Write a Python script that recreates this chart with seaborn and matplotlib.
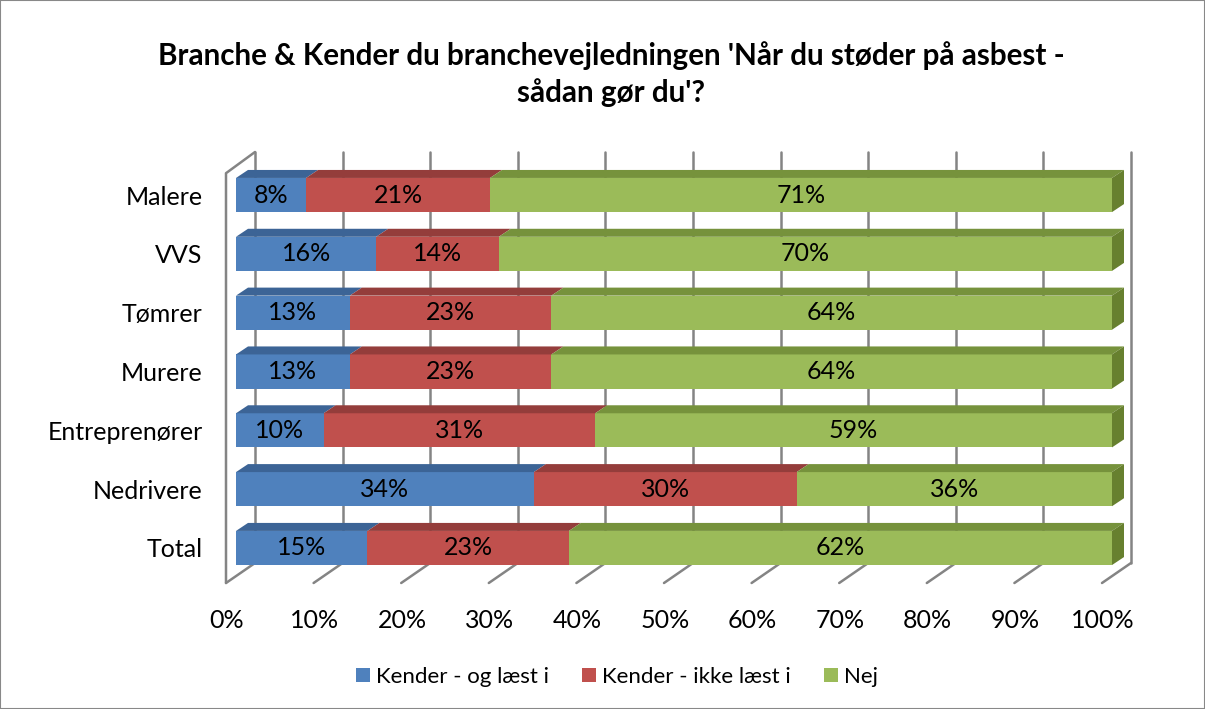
import numpy as np
import pandas as pd
import matplotlib
matplotlib.use("Agg")
import matplotlib.pyplot as plt
import matplotlib.transforms as mtransforms
from matplotlib.patches import Patch, Rectangle
import seaborn as sns

# data (percent)
branches = ["Malere", "VVS", "Tømrer", "Murere", "Entreprenører", "Nedrivere", "Total"]
kender_laest = [8, 16, 13, 13, 10, 34, 15]
kender_ikke_laest = [21, 14, 23, 23, 31, 30, 23]
nej = [71, 70, 64, 64, 59, 36, 62]
series = ["Kender - og læst i", "Kender - ikke læst i", "Nej"]
ticks = list(range(0, 101, 10))
tick_labels = [f"{t}%" for t in ticks]

colors = {"Kender - og læst i": "#4F81BD", "Kender - ikke læst i": "#C0504D", "Nej": "#9BBB59"}
top_colors = {"Kender - og læst i": "#3C6496", "Kender - ikke læst i": "#943D3B", "Nej": "#76923C"}
side_color = "#67802F"
grid_color = "#848484"

sns.set_style("white")
plt.rcParams["font.family"] = ["Lato", "DejaVu Sans"]
plt.rcParams["text.color"] = "black"
plt.rcParams["xtick.color"] = "black"
plt.rcParams["ytick.color"] = "black"

# long table with cumulative ends for overlaid stacked bars
vals = np.array([kender_laest, kender_ikke_laest, nej], dtype=float)
cum = vals.cumsum(axis=0)
rows = []
for s_i, s in enumerate(series):
    for b_i, b in enumerate(branches):
        rows.append((b, s, vals[s_i, b_i], cum[s_i, b_i]))
df = pd.DataFrame(rows, columns=["Branche", "Svar", "Value", "Cum"])

W, H = 1205, 709
fig = plt.figure(figsize=(W / 100, H / 100), dpi=100)
fig.patches.append(Rectangle((0, 0), 1, 1, transform=fig.transFigure, fill=False,
                             edgecolor="#888888", linewidth=1.5))
ax = fig.add_axes([236 / W, 1 - 577.4 / H, 876 / W, 411.8 / H])

bar_h = 0.58
sns.barplot(data=df, y="Branche", x="Cum", hue="Svar", order=branches,
            hue_order=series[::-1], palette=colors, dodge=False, width=bar_h,
            orient="h", saturation=1, legend=False, ax=ax, zorder=2,
            linewidth=0, edgecolor="none")
ax.set_xlim(0, 100)
ax.set_ylim(len(branches) - 0.5, -0.5)

# pixel scale of the axes -> depth offsets of the pseudo 3D frame
px_x = 876 / 100.0
px_y = 411.8 / len(branches)
wall_dx = 19 / px_x
front_dx = -10 / px_x
wall_top = -0.5 - 13.6 / px_y
floor_back = len(branches) - 0.5 - 14.4 / px_y
floor_front = floor_back + 20 / px_y
left_top = -0.5 + 7.6 / px_y
bar_dx = 12 / px_x
bar_dy = 8 / px_y

for t in ticks:
    ax.plot([t + wall_dx, t + wall_dx], [wall_top, floor_back], color=grid_color,
            lw=1.8, zorder=0.5, clip_on=False)
    ax.plot([t + wall_dx, t + front_dx], [floor_back, floor_front], color=grid_color,
            lw=1.8, zorder=0.5, clip_on=False)
ax.plot([front_dx, front_dx, wall_dx], [floor_front, left_top, wall_top],
        color=grid_color, lw=1.8, zorder=0.5, clip_on=False)

# top faces, right side face and value labels
for b_i, b in enumerate(branches):
    y_top = b_i - bar_h / 2
    y_bot = b_i + bar_h / 2
    start = 0.0
    for s_i, s in enumerate(series):
        v = vals[s_i, b_i]
        end = start + v
        ax.fill([start, end, end + bar_dx, start + bar_dx],
                [y_top, y_top, y_top - bar_dy, y_top - bar_dy],
                color=top_colors[s], lw=0, zorder=2.5, clip_on=False)
        ax.text(start + v / 2, b_i, f"{v:.0f}%", ha="center", va="center",
                fontsize=18, color="black", zorder=3)
        start = end
    ax.fill([start, start + bar_dx, start + bar_dx, start],
            [y_top, y_top - bar_dy, y_bot - bar_dy, y_bot],
            color=side_color, lw=0, zorder=2.5, clip_on=False)

for sp in ax.spines.values():
    sp.set_visible(False)
ax.set_xticks(ticks, tick_labels)
ax.tick_params(axis="x", length=0, pad=23, labelsize=18)
ax.tick_params(axis="y", length=0, pad=24, labelsize=18)
ax.set_xlabel("")
ax.set_ylabel("")
shift = mtransforms.ScaledTranslation(-9 / 100, 0, fig.dpi_scale_trans)
for lab in ax.get_xticklabels():
    lab.set_transform(lab.get_transform() + shift)

fig.text(611 / W, 1 - 74 / H,
         "Branche & Kender du branchevejledningen 'Når du støder på asbest -\nsådan gør du'?",
         ha="center", va="center", fontsize=21.3, fontweight="bold", linespacing=1.35)

handles = [Patch(facecolor=colors[s], edgecolor="none") for s in series]
fig.legend(handles, series, loc="center", bbox_to_anchor=(617 / W, 1 - 677 / H), ncol=3,
           frameon=False, fontsize=16, handlelength=0.63, handleheight=0.63,
           handletextpad=0.27, columnspacing=1.5)

fig.savefig("out.png", dpi=100)
